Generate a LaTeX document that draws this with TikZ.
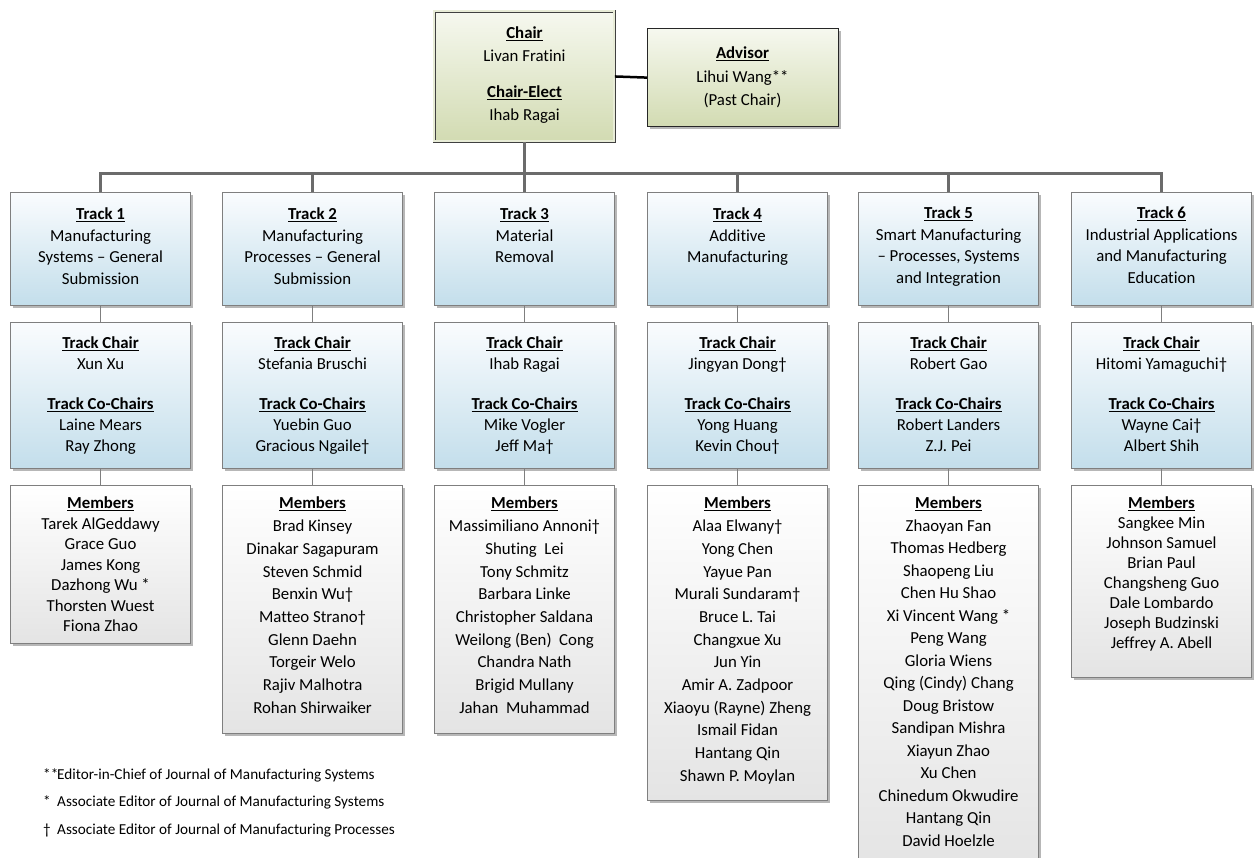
\documentclass[tikz,border=0pt]{standalone}
\usepackage{fontspec}
\setmainfont{Carlito}[Ligatures={NoCommon}]
\usetikzlibrary{shadows}
\definecolor{bordergray}{HTML}{7F7F7F}
\definecolor{busgray}{HTML}{6B6B6B}
\definecolor{blueTop}{HTML}{FAFCFE}
\definecolor{blueBot}{HTML}{C3DEEB}
\definecolor{grayBot}{HTML}{E4E4E4}
\definecolor{greenTop}{HTML}{F6F8EF}
\definecolor{greenBot}{HTML}{D2DBB2}
\newcommand\hd[1]{\underline{\textbf{#1}}}
\tikzset{
  x=1pt, y=-1pt,
  boxbase/.style={draw=bordergray, line width=1.1pt, minimum width=180pt, inner sep=0pt, anchor=north west,
    drop shadow={shadow xshift=2pt, shadow yshift=-2pt, fill=black!40, opacity=0.7}},
  trackbox/.style={boxbase, top color=blueTop, bottom color=blueBot},
  memberbox/.style={boxbase, top color=white, bottom color=grayBot},
  greenbox/.style={top color=greenTop, bottom color=greenBot, inner sep=0pt, anchor=north west,
    drop shadow={shadow xshift=2pt, shadow yshift=-2pt, fill=black!40, opacity=0.7}},
  txt/.style={align=center, anchor=north, inner sep=0pt},
  hdrtxt/.style={txt, font=\fontsize{16.8}{21.5}\selectfont},
  bus/.style={draw=busgray, line width=3pt},
  thinline/.style={draw=bordergray, line width=1pt},
}
\begin{document}
\begin{tikzpicture}
\useasboundingbox (0,0) rectangle (1256,857);
\fill[white] (0,0) rectangle (1256,857);

% top boxes
\node[greenbox, draw=black!75, line width=0.9pt, double=greenTop!60!greenBot, double distance=2pt,
  minimum width=180pt, minimum height=130pt] (chair) at (434,11) {};
\node[txt, font=\fontsize{16.8}{22.5}\selectfont] (chairtxt) at (524.5,27)
  {\hd{Chair}\\Livan Fratini\\[14pt]\hd{Chair-Elect}\\Ihab Ragai};
\node[greenbox, draw=black!85, line width=1.2pt, minimum width=191pt, minimum height=98pt] (advisor) at (647,28) {};
\node[txt, font=\fontsize{16.8}{23.5}\selectfont] (advtxt) at (742.5,47)
  {\hd{Advisor}\\Lihui Wang**\\(Past Chair)};

% track boxes
\node[trackbox, minimum height=113pt] (t1) at (10,192) {};
\node[trackbox, minimum height=113pt] (t2) at (222,192) {};
\node[trackbox, minimum height=113pt] (t3) at (434,192) {};
\node[trackbox, minimum height=113pt] (t4) at (647,192) {};
\node[trackbox, minimum height=113pt] (t5) at (858,192) {};
\node[trackbox, minimum height=113pt] (t6) at (1071,192) {};

\node[hdrtxt] (t1x) at (t1.north |- 0,208) {\hd{Track 1}\\Manufacturing\\Systems – General\\Submission};
\node[hdrtxt] (t2x) at (t2.north |- 0,208) {\hd{Track 2}\\Manufacturing\\Processes – General\\Submission};
\node[hdrtxt] (t3x) at (t3.north |- 0,208) {\hd{Track 3}\\Material\\Removal};
\node[hdrtxt] (t4x) at (t4.north |- 0,208) {\hd{Track 4}\\Additive\\Manufacturing};
\node[hdrtxt] (t5x) at (t5.north |- 0,207) {\hd{Track 5}\\Smart Manufacturing\\– Processes, Systems\\and Integration};
\node[hdrtxt] (t6x) at (t6.north |- 0,207) {\hd{Track 6}\\Industrial Applications\\and Manufacturing\\Education};

% chair boxes
\node[trackbox, minimum height=146pt] (c1) at (10,322) {};
\node[trackbox, minimum height=146pt] (c2) at (222,322) {};
\node[trackbox, minimum height=146pt] (c3) at (434,322) {};
\node[trackbox, minimum height=146pt] (c4) at (647,322) {};
\node[trackbox, minimum height=146pt] (c5) at (858,322) {};
\node[trackbox, minimum height=146pt] (c6) at (1071,322) {};
\tikzset{chtxt/.style={txt, font=\fontsize{16.8}{20.8}\selectfont}}
\node[chtxt] (c1x) at (c1.north |- 0,337) {\hd{Track Chair}\\Xun Xu\\[19pt]\hd{Track Co-Chairs}\\Laine Mears\\Ray Zhong};
\node[chtxt] (c2x) at (c2.north |- 0,337) {\hd{Track Chair}\\Stefania Bruschi\\[19pt]\hd{Track Co-Chairs}\\Yuebin Guo\\Gracious Ngaile†};
\node[chtxt] (c3x) at (c3.north |- 0,337) {\hd{Track Chair}\\Ihab Ragai\\[19pt]\hd{Track Co-Chairs}\\Mike Vogler\\Jeff Ma†};
\node[chtxt] (c4x) at (c4.north |- 0,337) {\hd{Track Chair}\\Jingyan Dong†\\[19pt]\hd{Track Co-Chairs}\\Yong Huang\\Kevin Chou†};
\node[chtxt] (c5x) at (c5.north |- 0,337) {\hd{Track Chair}\\Robert Gao\\[19pt]\hd{Track Co-Chairs}\\Robert Landers\\Z.J. Pei};
\node[chtxt] (c6x) at (c6.north |- 0,337) {\hd{Track Chair}\\Hitomi Yamaguchi†\\[19pt]\hd{Track Co-Chairs}\\Wayne Cai†\\Albert Shih};

% member boxes
\node[memberbox, minimum height=158pt] (m1) at (10,485) {};
\node[memberbox, minimum height=248pt] (m2) at (222,485) {};
\node[memberbox, minimum height=248pt] (m3) at (434,485) {};
\node[memberbox, minimum height=315pt] (m4) at (647,485) {};
\node[memberbox, minimum height=385pt] (m5) at (858,485) {};
\node[memberbox, minimum height=192pt] (m6) at (1071,485) {};

\node[txt, font=\fontsize{16.8}{20.5}\selectfont] (m1x) at (m1.north |- 0,497)
 {\hd{Members}\\Tarek AlGeddawy\\Grace Guo\\James Kong\\Dazhong Wu *\\Thorsten Wuest\\Fiona Zhao};
\node[txt, font=\fontsize{16.8}{22.7}\selectfont] (m2x) at (m2.north |- 0,497)
 {\hd{Members}\\Brad Kinsey\\Dinakar Sagapuram\\Steven Schmid\\Benxin Wu†\\Matteo Strano†\\Glenn Daehn\\Torgeir Welo\\Rajiv Malhotra\\Rohan Shirwaiker};
\node[txt, font=\fontsize{16.8}{22.7}\selectfont] (m3x) at (m3.north |- 0,497)
 {\hd{Members}\\Massimiliano Annoni†\\Shuting\ \ Lei\\Tony Schmitz\\Barbara Linke\\Christopher Saldana\\Weilong (Ben)\ \ Cong\\Chandra Nath\\Brigid Mullany\\Jahan\ \ Muhammad};
\node[txt, font=\fontsize{16.8}{22.7}\selectfont] (m4x) at (m4.north |- 0,497)
 {\hd{Members}\\Alaa Elwany†\\Yong Chen\\Yayue Pan\\Murali Sundaram†\\Bruce L. Tai\\Changxue Xu\\Jun Yin\\Amir A. Zadpoor\\Xiaoyu (Rayne) Zheng\\Ismail Fidan\\Hantang Qin\\Shawn P. Moylan};
\node[txt, font=\fontsize{16.8}{22.5}\selectfont] (m5x) at (m5.north |- 0,497)
 {\hd{Members}\\Zhaoyan Fan\\Thomas Hedberg\\Shaopeng Liu\\Chen Hu Shao\\Xi Vincent Wang *\\Peng Wang\\Gloria Wiens\\Qing (Cindy) Chang\\Doug Bristow\\Sandipan Mishra\\Xiayun Zhao\\Xu Chen\\Chinedum Okwudire\\Hantang Qin\\David Hoelzle};
\node[txt, font=\fontsize{16.8}{19.9}\selectfont] (m6x) at (m6.north |- 0,497)
 {\hd{Members}\\Sangkee Min\\Johnson Samuel\\Brian Paul\\Changsheng Guo\\Dale Lombardo\\Joseph Budzinski\\Jeffrey A. Abell};

% connectors
\coordinate (bus) at (0,173);
\draw[draw=black, line width=2.5pt] (chair.east) -- (advisor.west);
\draw[bus] (chair.south) -- (chair.south |- bus);
\draw[bus, line join=miter] (t1.north) -- (t1.north |- bus) -- (t6.north |- bus) -- (t6.north);
\draw[bus] (t2.north) -- (t2.north |- bus);
\draw[bus] (t3.north) -- (t3.north |- bus);
\draw[bus] (t4.north) -- (t4.north |- bus);
\draw[bus] (t5.north) -- (t5.north |- bus);
\foreach \i in {1,...,6}{
  \draw[thinline] (t\i.south) -- (c\i.north);
  \draw[thinline] (c\i.south) -- (m\i.north);
}

% footnotes
\node[anchor=north west, align=left, inner sep=0pt, font=\fontsize{15.2}{27.5}\selectfont] (notes) at (43,768)
 {\makebox[14pt][l]{**}Editor-in-Chief of Journal of Manufacturing Systems\\
  \makebox[14pt][l]{*}Associate Editor of Journal of Manufacturing Systems\\
  \makebox[14pt][l]{†}Associate Editor of Journal of Manufacturing Processes};
\end{tikzpicture}
\end{document}
